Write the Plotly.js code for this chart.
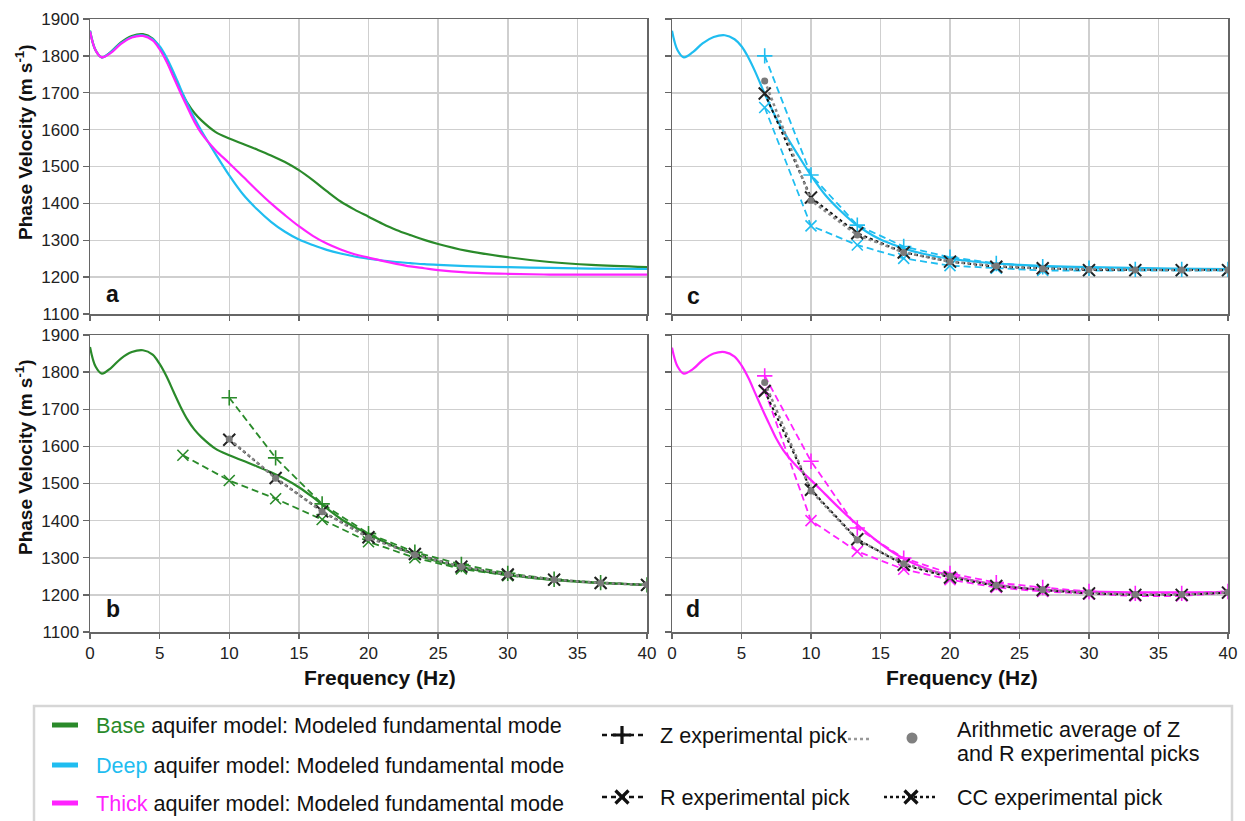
<!DOCTYPE html>
<html><head><meta charset="utf-8">
<script src="https://cdn.plot.ly/plotly-3.0.1.min.js"></script>
<style>html,body{margin:0;padding:0;background:#fff}#chart{width:1245px;height:821px}</style>
</head><body><div id="chart"></div>
<script>
// ---------------- DATA ----------------
const modelFreq = [0,0.4,0.85,1.5,2.2,3,3.8,4.5,5,5.5,6,6.5,7,7.5,8,9,10,11,12,13,14,15,16,17,18,19,20,21,22,23,24,25,27,30,33,36,40];
const baseModel = [1868,1815,1796,1811,1836,1854,1859,1847,1822,1788,1747,1707,1672,1645,1625,1594,1576,1561,1546,1530,1512,1490,1463,1433,1405,1383,1364,1345,1328,1314,1301,1290,1272,1254,1241,1233,1227];
const deepModel = [1868,1815,1796,1810,1834,1851,1856,1845,1826,1795,1756,1712,1670,1631,1597,1535,1476,1424,1384,1350,1323,1302,1287,1274,1264,1256,1250,1245,1241,1238,1235,1233,1230,1227,1225,1223,1222];
const thickModel = [1866,1815,1796,1808,1832,1850,1854,1842,1818,1784,1742,1700,1660,1621,1590,1545,1509,1472,1435,1400,1368,1338,1312,1291,1275,1262,1253,1244,1236,1229,1224,1219,1213,1209,1207,1207,1207];

const pickFreq = [6.67,10,13.33,16.67,20,23.33,26.67,30,33.33,36.67,40];
// panel b (base)
const zBase   = [null,1731,1569,1445,1365,1315,1282,1258,1242,1233,1227];
const rBase   = [1576,1508,1459,1403,1343,1300,1270,1252,1240,1232,1226];
const avgBase = [null,1620,1514,1424,1354,1308,1276,1255,1241,1232,1227];
const ccBase  = [null,1618,1515,1425,1355,1310,1276,1255,1241,1232,1227];
// panel c (deep)
const zDeep   = [1800,1477,1341,1283,1254,1237,1228,1224,1221,1221,1221];
const rDeep   = [1660,1339,1287,1251,1231,1224,1218,1218,1218,1218,1218];
const avgDeep = [1732,1408,1314,1267,1242,1230,1223,1221,1219,1219,1219];
const ccDeep  = [1698,1416,1319,1267,1242,1228,1224,1219,1219,1219,1219];
// panel d (thick)
const zThick   = [1790,1560,1380,1299,1258,1233,1220,1209,1204,1204,1209];
const rThick   = [1751,1400,1317,1269,1241,1220,1209,1202,1197,1197,1206];
const avgThick = [1772,1480,1348,1284,1250,1226,1214,1206,1201,1201,1207];
const ccThick  = [1749,1483,1350,1281,1247,1224,1213,1204,1200,1200,1206];

const panelLabels = ['a','b','c','d'];
const modelNames = ['Base','Deep','Thick'];
const legendModelText = ' aquifer model: Modeled fundamental mode';
const xTitle = 'Frequency (Hz)';
const yTitle = 'Phase Velocity (m s<sup>-1</sup>)';

// ---------------- STYLE ----------------
const GREEN = '#2a8a2a', BLUE = '#1fbdf0', MAGENTA = '#ff22ff', GRAY = '#888888';
const FONT = 'Liberation Sans, Arial, sans-serif';
const W = 1245, H = 821;
const px = x => x / W, py = y => (H - y) / H;

const traces = [];
function model(xa, ya, y, color) {
  traces.push({x: modelFreq, y: y, xaxis: xa, yaxis: ya, mode: 'lines',
    line: {color: color, width: 2.2, shape: 'spline', smoothing: 1}});
}
function picks(xa, ya, z, r, avg, cc, color) {
  traces.push({x: pickFreq, y: z, xaxis: xa, yaxis: ya, mode: 'lines+markers',
    line: {color: color, width: 1.8, dash: '7px,4px'},
    marker: {symbol: 'cross-thin-open', size: 11, color: color, line: {width: 1.6, color: color}}});
  traces.push({x: pickFreq, y: r, xaxis: xa, yaxis: ya, mode: 'lines+markers',
    line: {color: color, width: 1.8, dash: '7px,4px'},
    marker: {symbol: 'x-thin-open', size: 11, color: color, line: {width: 1.6, color: color}}});
  traces.push({x: pickFreq, y: cc, xaxis: xa, yaxis: ya, mode: 'lines+markers',
    line: {color: '#111', width: 2, dash: 'dot'},
    marker: {symbol: 'x-thin-open', size: 12, color: '#222', line: {width: 2, color: '#222'}}});
  traces.push({x: pickFreq, y: avg, xaxis: xa, yaxis: ya, mode: 'lines+markers',
    line: {color: GRAY, width: 2.5, dash: 'dot'},
    marker: {symbol: 'circle', size: 7, color: '#7a7a7a'}});
}
// panel a
model('x', 'y', baseModel, GREEN);
model('x', 'y', deepModel, BLUE);
model('x', 'y', thickModel, MAGENTA);
// panel b
model('x3', 'y3', baseModel, GREEN);
picks('x3', 'y3', zBase, rBase, avgBase, ccBase, GREEN);
// panel c
model('x2', 'y2', deepModel, BLUE);
picks('x2', 'y2', zDeep, rDeep, avgDeep, ccDeep, BLUE);
// panel d
model('x4', 'y4', thickModel, MAGENTA);
picks('x4', 'y4', zThick, rThick, avgThick, ccThick, MAGENTA);

// ---------------- LEGEND SYMBOLS (on a pixel-space helper axis) ----------------
const modelColors = [GREEN, BLUE, MAGENTA];
const legRowsY = [725, 765, 803];
modelColors.forEach((c, i) => {
  traces.push({x: [52, 78], y: [legRowsY[i], legRowsY[i]], xaxis: 'x5', yaxis: 'y5', mode: 'lines',
    line: {color: c, width: 5}});
});
function legSym(x0, x1, xm, y, dash, symbol, color) {
  traces.push({x: [x0, x1], y: [y, y], xaxis: 'x5', yaxis: 'y5', mode: 'lines',
    line: {color: color, width: 2.5, dash: dash}});
  if (symbol) traces.push({x: [xm], y: [y], xaxis: 'x5', yaxis: 'y5', mode: 'markers',
    marker: {symbol: symbol, size: 13, color: color, line: {width: 3.2, color: color}}});
}
legSym(602, 647, 622, 735, '5px,4px', 'cross-thin-open', '#111');
legSym(602, 647, 622, 797, '5px,4px', 'x-thin-open', '#111');
legSym(884, 938, 911, 797, 'dot', 'x-thin-open', '#111');
legSym(842, 872, null, 739, 'dot', null, '#999');
traces.push({x: [912], y: [738], xaxis: 'x5', yaxis: 'y5', mode: 'markers',
  marker: {symbol: 'circle', size: 11, color: '#808080'}});

// ---------------- LAYOUT ----------------
const xL = [px(90), px(647)], xR = [px(672), px(1228)];
const yT = [py(314), py(19)], yB = [py(632), py(335)];
function xax(domain, anchor, labels) {
  return {domain: domain, anchor: anchor, range: [0, 40], dtick: 5, tick0: 0,
    showticklabels: labels, ticks: 'outside', ticklen: 5, tickcolor: '#666', tickwidth: 1.3,
    showgrid: true, gridcolor: '#cfcfcf', gridwidth: 1.5, zeroline: false,
    showline: true, linecolor: '#666', linewidth: 1.5, mirror: true,
    tickfont: {family: FONT, size: 17, color: '#222'}, fixedrange: true};
}
function yax(domain, anchor, labels) {
  return {domain: domain, anchor: anchor, range: [1100, 1900], dtick: 100, tick0: 1100,
    showticklabels: labels, ticks: 'outside', ticklen: 6, tickcolor: '#666', tickwidth: 1.3,
    showgrid: true, gridcolor: '#cfcfcf', gridwidth: 1.5, zeroline: false,
    showline: true, linecolor: '#666', linewidth: 1.5, mirror: true,
    tickfont: {family: FONT, size: 17, color: '#222'}, fixedrange: true};
}

const annotations = [];
function ann(x, y, text, opts) {
  annotations.push(Object.assign({xref: 'paper', yref: 'paper', x: px(x), y: py(y), text: text,
    showarrow: false, xanchor: 'center', yanchor: 'middle',
    font: {family: FONT, size: 21.6, color: '#111'}}, opts || {}));
}
// panel letters
const letterFont = {family: FONT, size: 23, color: '#111'};
ann(113, 294, '<b>' + panelLabels[0] + '</b>', {font: letterFont});
ann(113, 609, '<b>' + panelLabels[1] + '</b>', {font: letterFont});
ann(693, 296, '<b>' + panelLabels[2] + '</b>', {font: letterFont});
ann(693, 609, '<b>' + panelLabels[3] + '</b>', {font: letterFont});
// axis titles
const titleFont = {family: FONT, size: 19, color: '#111'};
ann(24, 142, '<b>' + yTitle + '</b>', {textangle: -90, font: titleFont});
ann(24, 457, '<b>' + yTitle + '</b>', {textangle: -90, font: titleFont});
ann(380, 677, '<b>' + xTitle + '</b>', {font: {family: FONT, size: 21, color: '#111'}});
ann(962, 677, '<b>' + xTitle + '</b>', {font: {family: FONT, size: 21, color: '#111'}});
// legend texts
modelNames.forEach((n, i) => {
  ann(94, legRowsY[i], '<span style="color:' + modelColors[i] + '">' + n + '</span>' + legendModelText,
    {xanchor: 'left'});
});
ann(658, 735, 'Z experimental pick', {xanchor: 'left'});
ann(658, 797, 'R experimental pick', {xanchor: 'left'});
ann(955, 729, 'Arithmetic average of Z', {xanchor: 'left'});
ann(955, 753, 'and R experimental picks', {xanchor: 'left'});
ann(955, 797, 'CC experimental pick', {xanchor: 'left'});

const layout = {
  width: W, height: H, margin: {l: 0, r: 0, t: 0, b: 0},
  paper_bgcolor: '#fff', plot_bgcolor: '#fff', showlegend: false, hovermode: false,
  font: {family: FONT},
  xaxis: xax(xL, 'y', false), yaxis: yax(yT, 'x', true),
  xaxis2: xax(xR, 'y2', false), yaxis2: yax(yT, 'x2', false),
  xaxis3: xax(xL, 'y3', true), yaxis3: yax(yB, 'x3', true),
  xaxis4: xax(xR, 'y4', true), yaxis4: yax(yB, 'x4', false),
  xaxis5: {domain: [0, 1], anchor: 'y5', range: [0, W], visible: false, fixedrange: true},
  yaxis5: {domain: [0, py(706)], anchor: 'x5', range: [H, 706], visible: false, fixedrange: true},
  shapes: [{type: 'rect', xref: 'paper', yref: 'paper', x0: px(34), x1: px(1232), y0: py(824), y1: py(706),
    line: {color: '#d6d6d6', width: 2.5}, fillcolor: 'rgba(0,0,0,0)', layer: 'below'}],
  annotations: annotations
};
traces.forEach(t => { t.showlegend = false; t.hoverinfo = 'skip'; if (t.xaxis === 'x5') t.cliponaxis = false; });
Plotly.newPlot('chart', traces, layout, {staticPlot: true, displayModeBar: false});
</script></body></html>
